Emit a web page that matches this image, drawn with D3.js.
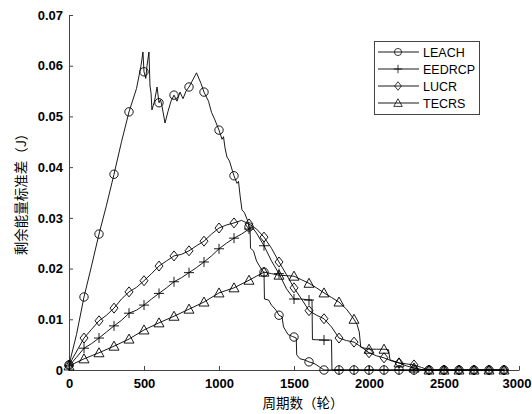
<!DOCTYPE html>
<html>
<head>
<meta charset="utf-8">
<title>剩余能量标准差</title>
<script src="https://d3js.org/d3.v7.min.js"></script>
<style>
  body { margin: 0; background: #fff; }
  .line { fill: none; stroke: #000; stroke-width: 0.9; }
  .mark { fill: none; stroke: #000; stroke-width: 0.9; }
  .axis path, .axis line { stroke: #444; stroke-width: 1; }
  .axis text { font: bold 13px "Liberation Sans", Arial, sans-serif; fill: #000; }
  .label { font: 13.5px "Noto Sans CJK SC", sans-serif; fill: #000; }
  .legend text { font: 12.5px "Liberation Sans", Arial, sans-serif; fill: #000; }
</style>
</head>
<body>
<svg width="532" height="414"></svg>
<script>
// rounds vs std of residual energy
var leach = [[0,0.0010],[50,0.0070],[100,0.0144],[150,0.0205],[200,0.0268],[250,0.0325],[300,0.0386],[350,0.0450],
  [400,0.0509],[450,0.0555],[480,0.0600],[493,0.0627],[500,0.0588],[512,0.0575],[520,0.0600],[533,0.0627],[540,0.0560],
  [547,0.0546],[553,0.0513],[570,0.0530],[587,0.0558],[600,0.0527],[610,0.0533],[620,0.0520],[640,0.0487],[660,0.0510],
  [680,0.0530],[700,0.0542],[720,0.0530],[740,0.0548],[760,0.0535],[780,0.0550],[800,0.0558],[850,0.0586],[880,0.0565],
  [900,0.0548],[930,0.0530],[950,0.0508],[970,0.0495],[1000,0.0473],[1020,0.0455],[1030,0.0460],[1040,0.0438],[1053,0.0420],
  [1070,0.0412],[1090,0.0392],[1100,0.0383],[1120,0.0368],[1130,0.0372],[1140,0.0345],[1153,0.0316],[1170,0.0310],
  [1190,0.0295],[1200,0.0282],[1207,0.0280],[1210,0.0240],[1230,0.0235],[1250,0.0215],[1270,0.0205],[1290,0.0195],
  [1300,0.0193],[1303,0.0140],[1330,0.0138],[1350,0.0128],[1380,0.0118],[1400,0.0108],[1420,0.0105],[1430,0.0085],
  [1460,0.0070],[1490,0.0066],[1500,0.0065],[1515,0.0063],[1518,0.0030],[1540,0.0022],[1570,0.0020],[1600,0.0016],
  [1640,0.0012],[1660,0.0008],[1700,0],[1800,0],[1900,0],[2000,0],[2100,0],[2200,0],[2300,0],[2400,0],[2500,0],
  [2600,0],[2700,0],[2800,0],[2900,0]];

var eedrcp = [[0,0.0008],[50,0.0025],[100,0.0043],[150,0.0052],[200,0.0063],[250,0.0075],[300,0.0087],[350,0.0098],
  [400,0.0112],[450,0.0118],[500,0.0128],[550,0.0140],[600,0.0151],[650,0.0162],[700,0.0174],[750,0.0182],[800,0.0192],
  [850,0.0202],[900,0.0213],[950,0.0225],[1000,0.0239],[1050,0.0250],[1100,0.0260],[1150,0.0268],[1200,0.0278],
  [1220,0.0282],[1250,0.0270],[1300,0.0245],[1350,0.0215],[1400,0.0190],[1450,0.0160],[1500,0.0140],[1550,0.0140],
  [1600,0.0138],[1620,0.0138],[1623,0.0060],[1700,0.0059],[1750,0.0059],[1753,0],[1800,0],[1900,0],[2000,0],[2100,0],
  [2200,0],[2300,0],[2400,0],[2500,0],[2600,0],[2700,0],[2800,0],[2900,0]];

var lucr = [[0,0.0010],[100,0.0063],[150,0.0080],[200,0.0097],[250,0.0108],[300,0.0122],[350,0.0140],[400,0.0154],
  [450,0.0163],[500,0.0176],[550,0.0190],[600,0.0205],[650,0.0215],[700,0.0225],[750,0.0228],[800,0.0235],[850,0.0245],
  [900,0.0254],[950,0.0268],[1000,0.0280],[1050,0.0286],[1100,0.0290],[1150,0.0295],[1200,0.0288],[1250,0.0278],
  [1300,0.0262],[1350,0.0240],[1400,0.0213],[1450,0.0188],[1500,0.0162],[1550,0.0140],[1600,0.0117],[1650,0.0108],
  [1700,0.0101],[1750,0.0085],[1800,0.0063],[1850,0.0058],[1900,0.0055],[1950,0.0045],[2000,0.0034],[2050,0.0028],
  [2100,0.0024],[2150,0.0018],[2200,0.0014],[2250,0.0012],[2300,0.0010],[2350,0.0005],[2400,0],[2500,0],[2600,0],
  [2700,0],[2800,0],[2900,0]];

var tecrs = [[0,0.0008],[100,0.0022],[200,0.0034],[300,0.0047],[400,0.0061],[500,0.0079],[600,0.0093],[700,0.0106],
  [800,0.0120],[900,0.0134],[1000,0.0152],[1100,0.0162],[1200,0.0177],[1250,0.0185],[1300,0.0193],[1350,0.0190],
  [1400,0.0187],[1450,0.0186],[1500,0.0185],[1550,0.0178],[1600,0.0171],[1650,0.0162],[1700,0.0152],[1750,0.0143],
  [1800,0.0134],[1850,0.0120],[1900,0.0100],[1920,0.0090],[1935,0.0075],[1945,0.0045],[2000,0.0041],[2050,0.0041],
  [2100,0.0041],[2130,0.0040],[2140,0.0020],[2200,0.0014],[2250,0.0008],[2300,0.0004],[2350,0.0001],[2400,0],
  [2500,0],[2600,0],[2700,0],[2800,0],[2900,0]];

var names = ["LEACH", "EEDRCP", "LUCR", "TECRS"];
var xTicks = [0, 500, 1000, 1500, 2000, 2500, 3000];
var yTicks = [0, 0.01, 0.02, 0.03, 0.04, 0.05, 0.06, 0.07];

var svg = d3.select("svg");
var x = d3.scaleLinear().domain([0, 3000]).range([69, 519]);
var y = d3.scaleLinear().domain([0, 0.07]).range([370, 15]);

var xAxis = svg.append("g").attr("class", "axis")
  .attr("transform", "translate(0,370)")
  .call(d3.axisBottom(x).tickValues(xTicks).tickSizeInner(-4).tickSizeOuter(0).tickPadding(9).tickFormat(d3.format("d")));
// last label sits at the right edge, pull it in so it is not cut
xAxis.selectAll(".tick text").filter(function(d){ return d === 3000; })
  .attr("text-anchor", "end").attr("x", 12);

svg.append("g").attr("class", "axis")
  .attr("transform", "translate(69,0)")
  .call(d3.axisLeft(y).tickValues(yTicks).tickSizeInner(-4).tickSizeOuter(0).tickPadding(6)
    .tickFormat(function(d){ return d === 0 ? "0" : d3.format(".2f")(d); }));

svg.append("text").attr("class", "label")
  .attr("transform", "translate(26,191) rotate(-90)")
  .attr("text-anchor", "middle")
  .text("剩余能量标准差（J）");

svg.append("text").attr("class", "label")
  .attr("x", 303).attr("y", 408)
  .attr("text-anchor", "middle")
  .text("周期数（轮）");

// marker shapes, centred on 0,0
function drawMark(sel, k) {
  if (k == 0) {
    sel.append("circle").attr("class", "mark").attr("r", 4.2);
  } else if (k == 1) {
    sel.append("path").attr("class", "mark").attr("d", "M-5,0H5M0,-5V5");
  } else if (k == 2) {
    sel.append("path").attr("class", "mark").attr("d", "M0,-5L4,0L0,5L-4,0Z");
  } else {
    sel.append("path").attr("class", "mark").attr("d", "M0,-5L5,4H-5Z");
  }
}

var line = d3.line()
  .x(function(d){ return x(d[0]); })
  .y(function(d){ return y(d[1]); });

var series = [leach, eedrcp, lucr, tecrs];
series.forEach(function(s, k) {
  svg.append("path").datum(s).attr("class", "line").attr("d", line);
  svg.selectAll(".m" + k)
    .data(s.filter(function(d){ return d[0] % 100 === 0; }))
    .enter().append("g")
    .attr("class", "m" + k)
    .attr("transform", function(d){ return "translate(" + x(d[0]) + "," + y(d[1]) + ")"; })
    .each(function(){ drawMark(d3.select(this), k); });
});

// legend
var lg = svg.append("g").attr("class", "legend");
lg.append("rect").attr("x", 374.5).attr("y", 41.5).attr("width", 105).attr("height", 73)
  .attr("fill", "#fff").attr("stroke", "#444");
names.forEach(function(n, k) {
  var yy = 52 + k * 17;
  lg.append("line").attr("x1", 378).attr("x2", 419).attr("y1", yy).attr("y2", yy)
    .attr("stroke", "#000").attr("stroke-width", 0.9);
  drawMark(lg.append("g").attr("transform", "translate(398," + yy + ") scale(0.85)"), k);
  lg.append("text").attr("x", 423).attr("y", yy + 4.5).text(n);
});
</script>
</body>
</html>
